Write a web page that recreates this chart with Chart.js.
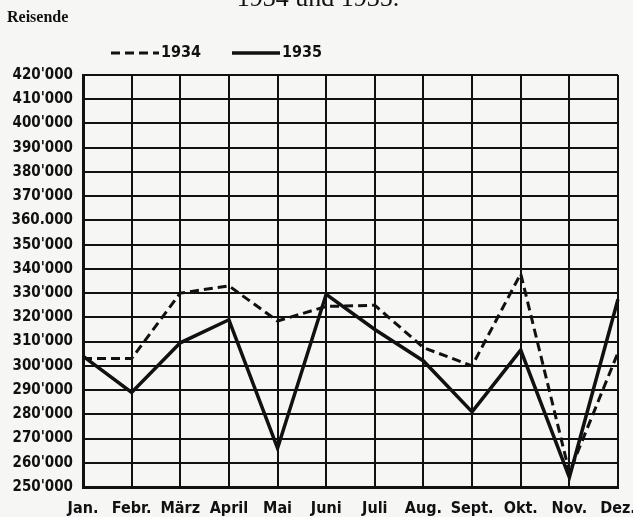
<!DOCTYPE html>
<html>
<head>
<meta charset="utf-8">
<script src="https://cdn.jsdelivr.net/npm/chart.js@4.4.1/dist/chart.umd.min.js"></script>
<style>
  html, body { margin: 0; padding: 0; background: #f6f6f4; }
  #wrap { width: 633px; height: 517px; position: relative; }
</style>
</head>
<body>
<div id="wrap"><canvas id="c" width="633" height="517"></canvas></div>
<script>
const months = ['Jan.', 'Febr.', 'März', 'April', 'Mai', 'Juni', 'Juli', 'Aug.', 'Sept.', 'Okt.', 'Nov.', 'Dez.'];
const values1934 = [303000, 303000, 330000, 333000, 318500, 324500, 325000, 307500, 300000, 338000, 256000, 305500];
const values1935 = [304000, 289000, 309500, 319000, 266000, 329500, 315000, 302000, 281000, 306500, 254000, 327500];
const yTickLabels = {
  420000: "420'000", 410000: "410'000", 400000: "400'000", 390000: "390'000",
  380000: "380'000", 370000: "370'000", 360000: "360.000", 350000: "350'000",
  340000: "340'000", 330000: "330'000", 320000: "320'000", 310000: "310'000",
  300000: "300'000", 290000: "290'000", 280000: "280'000", 270000: "270'000",
  260000: "260'000", 250000: "250'000"
};
const titleText = '1934 und 1935.';
const unitText = 'Reisende';

const ink = '#111111';
const labelFont = '"DejaVu Sans Condensed", "DejaVu Sans", sans-serif';

const decorPlugin = {
  id: 'decor',
  beforeDraw(chart) {
    const ctx = chart.ctx;
    ctx.save();
    ctx.fillStyle = '#f6f6f4';
    ctx.fillRect(0, 0, chart.width, chart.height);
    ctx.restore();
  },
  afterDraw(chart) {
    const ctx = chart.ctx;
    ctx.save();
    ctx.fillStyle = ink;
    ctx.font = '26px "Liberation Serif", serif';
    ctx.textAlign = 'center';
    ctx.textBaseline = 'alphabetic';
    ctx.fillText(titleText, 318, 6);
    ctx.font = 'bold 16px "Liberation Serif", serif';
    ctx.textAlign = 'left';
    ctx.textBaseline = 'middle';
    ctx.fillText(unitText, 7, 18);
    const items = [
      { ds: chart.data.datasets[0], x0: 111, x1: 159 },
      { ds: chart.data.datasets[1], x0: 232, x1: 280 }
    ];
    const ly = 53;
    items.forEach(it => {
      ctx.strokeStyle = ink;
      ctx.lineWidth = it.ds.borderWidth;
      ctx.setLineDash(it.ds.borderDash || []);
      ctx.beginPath();
      ctx.moveTo(it.x0, ly);
      ctx.lineTo(it.x1, ly);
      ctx.stroke();
      ctx.setLineDash([]);
      ctx.font = 'bold 16px ' + labelFont;
      ctx.textAlign = 'left';
      ctx.textBaseline = 'middle';
      ctx.fillText(it.ds.label, it.x1 + 2, ly);
    });
    ctx.restore();
  }
};

new Chart(document.getElementById('c'), {
  type: 'line',
  data: {
    labels: months,
    datasets: [
      {
        label: '1934',
        data: values1934,
        borderColor: ink,
        borderWidth: 3,
        borderDash: [9, 5],
        pointRadius: 0,
        tension: 0,
        fill: false
      },
      {
        label: '1935',
        data: values1935,
        borderColor: ink,
        borderWidth: 3.5,
        pointRadius: 0,
        tension: 0,
        fill: false
      }
    ]
  },
  options: {
    responsive: false,
    animation: false,
    devicePixelRatio: 1,
    layout: { padding: { top: 75, right: 15, bottom: 0, left: 0 } },
    plugins: {
      legend: { display: false },
      title: { display: false },
      tooltip: { enabled: false }
    },
    scales: {
      x: {
        offset: false,
        grid: { color: ink, lineWidth: 2, drawTicks: false },
        border: { color: ink, width: 3 },
        ticks: {
          color: ink,
          font: { family: labelFont, size: 16, weight: 'bold' },
          padding: 12,
          maxRotation: 0,
          autoSkip: false
        },
        afterFit(scale) {
          scale.height = 30;
          scale.paddingLeft = 0;
          scale.paddingRight = 0;
        }
      },
      y: {
        min: 250000,
        max: 420000,
        grid: { color: ink, lineWidth: 2, drawTicks: false },
        border: { color: ink, width: 3 },
        ticks: {
          stepSize: 10000,
          color: ink,
          font: { family: labelFont, size: 15, weight: 'bold' },
          padding: 10,
          callback: (v) => yTickLabels[v] || ''
        },
        afterFit(scale) {
          scale.width = 83;
          scale.paddingTop = 0;
          scale.paddingBottom = 0;
        }
      }
    }
  },
  plugins: [decorPlugin]
});
</script>
</body>
</html>
